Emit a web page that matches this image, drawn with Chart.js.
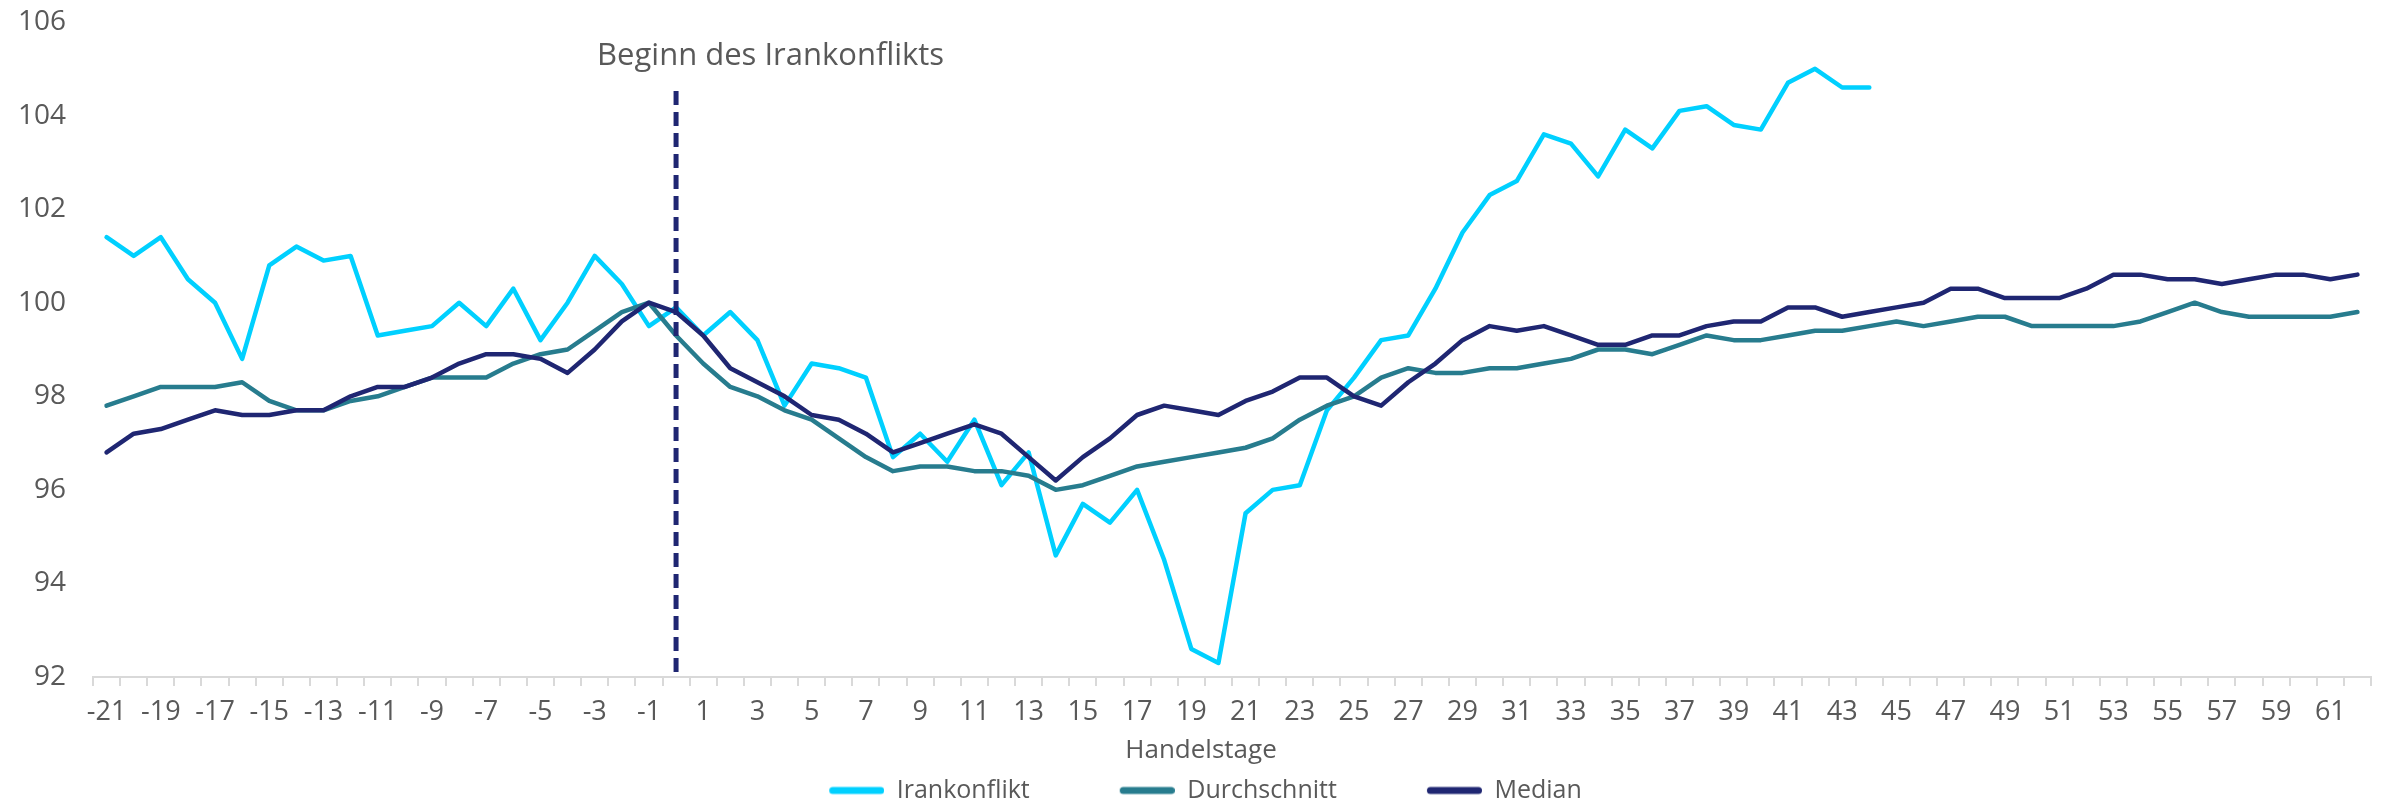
<!DOCTYPE html>
<html>
<head>
<meta charset="utf-8">
<script src="https://cdn.jsdelivr.net/npm/chart.js@4/dist/chart.umd.min.js"></script>
<style>
  html, body { margin: 0; padding: 0; background: #ffffff; }
  #wrap { width: 2385px; height: 805px; }
</style>
</head>
<body>
<div id="wrap"><canvas id="c" width="2385" height="805"></canvas></div>
<script>
const categories = [-21,-20,-19,-18,-17,-16,-15,-14,-13,-12,-11,-10,-9,-8,-7,-6,-5,-4,-3,-2,-1,0,
  1,2,3,4,5,6,7,8,9,10,11,12,13,14,15,16,17,18,19,20,21,22,23,24,25,26,27,28,29,30,
  31,32,33,34,35,36,37,38,39,40,41,42,43,44,45,46,47,48,49,50,51,52,53,54,55,56,57,58,59,60,61,62];

const irankonflikt = [101.4,101.0,101.4,100.5,100.0,98.8,100.8,101.2,100.9,101.0,99.3,99.4,99.5,100.0,99.5,100.3,99.2,100.0,101.0,100.4,99.5,99.9,
  99.3,99.8,99.2,97.8,98.7,98.6,98.4,96.7,97.2,96.6,97.5,96.1,96.8,94.6,95.7,95.3,96.0,94.5,92.6,92.3,95.5,96.0,96.1,97.7,98.4,99.2,99.3,100.3,101.5,102.3,
  102.6,103.6,103.4,102.7,103.7,103.3,104.1,104.2,103.8,103.7,104.7,105.0,104.6,104.6,
  null,null,null,null,null,null,null,null,null,null,null,null,null,null,null,null,null,null];

const durchschnitt = [97.8,98.0,98.2,98.2,98.2,98.3,97.9,97.7,97.7,97.9,98.0,98.2,98.4,98.4,98.4,98.7,98.9,99.0,99.4,99.8,100.0,99.3,
  98.7,98.2,98.0,97.7,97.5,97.1,96.7,96.4,96.5,96.5,96.4,96.4,96.3,96.0,96.1,96.3,96.5,96.6,96.7,96.8,96.9,97.1,97.5,97.8,98.0,98.4,98.6,98.5,98.5,98.6,
  98.6,98.7,98.8,99.0,99.0,98.9,99.1,99.3,99.2,99.2,99.3,99.4,99.4,99.5,99.6,99.5,99.6,99.7,99.7,99.5,99.5,99.5,99.5,99.6,99.8,100.0,99.8,99.7,99.7,99.7,99.7,99.8];

const median = [96.8,97.2,97.3,97.5,97.7,97.6,97.6,97.7,97.7,98.0,98.2,98.2,98.4,98.7,98.9,98.9,98.8,98.5,99.0,99.6,100.0,99.8,
  99.3,98.6,98.3,98.0,97.6,97.5,97.2,96.8,97.0,97.2,97.4,97.2,96.7,96.2,96.7,97.1,97.6,97.8,97.7,97.6,97.9,98.1,98.4,98.4,98.0,97.8,98.3,98.7,99.2,99.5,
  99.4,99.5,99.3,99.1,99.1,99.3,99.3,99.5,99.6,99.6,99.9,99.9,99.7,99.8,99.9,100.0,100.3,100.3,100.1,100.1,100.1,100.3,100.6,100.6,100.5,100.5,100.4,100.5,100.6,100.6,100.5,100.6];

const seriesNames = ['Irankonflikt', 'Durchschnitt', 'Median'];
const yTicks = [92, 94, 96, 98, 100, 102, 104, 106];
const eventCategory = 0;
const eventLabel = 'Beginn des Irankonflikts';
const xTitle = 'Handelstage';

const colors = ['#00D0FF', '#277C8E', '#1F2672'];
const textColor = '#595959';
const FONT = '"Open Sans", Lato, sans-serif';

Chart.defaults.font.family = FONT;
Chart.defaults.color = textColor;

const LEG_BOX = 135, LEG_LINE = 55;
function legendImage(color) {
  const cv = document.createElement('canvas');
  cv.width = LEG_BOX; cv.height = 10;
  const g = cv.getContext('2d');
  g.strokeStyle = color; g.lineWidth = 7; g.lineCap = 'round';
  g.beginPath(); g.moveTo(LEG_BOX - LEG_LINE + 3.5, 5); g.lineTo(LEG_BOX - 3.5, 5); g.stroke();
  return cv;
}
const legendImgs = colors.map(legendImage);

const eventPlugin = {
  id: 'eventLine',
  afterDatasetsDraw(chart) {
    const x = chart.scales.x.getPixelForValue(categories.indexOf(eventCategory));
    const ctx = chart.ctx;
    const area = chart.chartArea;
    ctx.save();
    ctx.strokeStyle = colors[2];
    ctx.lineWidth = 5;
    ctx.setLineDash([14, 7]);
    ctx.beginPath();
    ctx.moveTo(x, 91);
    ctx.lineTo(x, area.bottom);
    ctx.stroke();
    ctx.setLineDash([]);
    ctx.fillStyle = textColor;
    ctx.font = '31px ' + FONT;
    ctx.textAlign = 'left';
    ctx.textBaseline = 'middle';
    ctx.fillText(eventLabel, x - 79, 56);
    // x-axis title, centred as in the original
    ctx.font = '26px ' + FONT;
    ctx.textAlign = 'center';
    ctx.fillText(xTitle, 1201, 751);
    ctx.restore();
  }
};

const datasets = [irankonflikt, durchschnitt, median].map((d, i) => ({
  label: seriesNames[i],
  data: d,
  borderColor: colors[i],
  backgroundColor: colors[i],
  borderWidth: 4.5,
  pointRadius: 0,
  tension: 0,
  borderJoinStyle: 'round',
  borderCapStyle: 'round',
  spanGaps: false,
  order: i === 0 ? 3 : (i === 1 ? 2 : 1)
}));

new Chart(document.getElementById('c'), {
  type: 'line',
  data: { labels: categories.map(String), datasets },
  options: {
    responsive: false,
    animation: false,
    devicePixelRatio: 1,
    layout: { padding: { top: 22, right: 14, left: -40, bottom: 0 } },
    plugins: {
      legend: {
        position: 'bottom',
        maxHeight: 37,
        labels: {
          usePointStyle: true,
          pointStyleWidth: LEG_BOX,
          padding: 10,
          color: textColor,
          font: { size: 25 },
          generateLabels(chart) {
            return chart.data.datasets.map((ds, i) => ({
              text: ds.label,
              pointStyle: legendImgs[i],
              fillStyle: ds.borderColor,
              strokeStyle: ds.borderColor,
              lineWidth: 0,
              hidden: false,
              datasetIndex: i,
              fontColor: textColor
            }));
          }
        }
      },
      tooltip: { enabled: false }
    },
    scales: {
      x: {
        type: 'category',
        offset: true,
        afterFit(scale) { scale.height = 91; },
        grid: { display: true, drawOnChartArea: false, drawTicks: true, tickLength: 9, color: '#D9D9D9', lineWidth: 2, offset: true },
        border: { display: true, color: '#D9D9D9', width: 2 },
        ticks: {
          autoSkip: false, maxRotation: 0, minRotation: 0, padding: 10,
          font: { size: 27 }, color: textColor,
          callback(val, idx) { return idx % 2 === 0 ? this.getLabelForValue(val) : ''; }
        },
        title: { display: false }
      },
      y: {
        min: 92, max: 106,
        afterFit(scale) { scale.width = 133; scale.paddingTop = 0; scale.paddingBottom = 0; },
        afterBuildTicks(scale) { scale.ticks = yTicks.map(v => ({ value: v })); },
        grid: { display: false, drawTicks: false },
        border: { display: false },
        ticks: { padding: 27, font: { size: 28 }, color: textColor }
      }
    }
  },
  plugins: [eventPlugin]
});
</script>
</body>
</html>
